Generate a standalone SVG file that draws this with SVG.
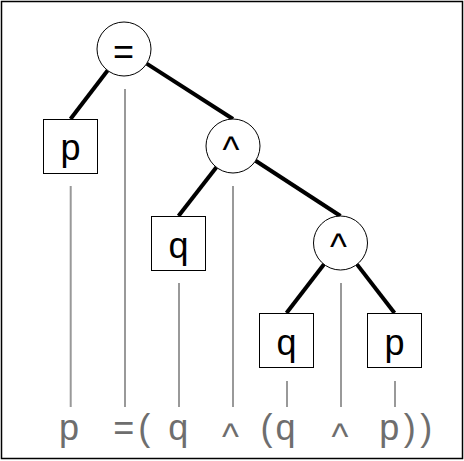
<svg xmlns="http://www.w3.org/2000/svg" width="464" height="461" viewBox="0 0 464 461">
<style>
.node{fill:#fff;stroke:#000;stroke-width:1}
.lbl{font-family:"Liberation Sans",Arial,sans-serif;font-size:36px;fill:#000;text-anchor:middle}
.edge{stroke:#000;stroke-width:4;stroke-linecap:butt}
.guide{stroke:#999;stroke-width:2}
.tok{font-family:"Liberation Sans",Arial,sans-serif;font-size:36px;fill:#6e6e6e}
</style>
<rect x="0" y="0" width="464" height="461" fill="#fff"/>
<rect x="1.5" y="1.5" width="461" height="457" fill="none" stroke="#000" stroke-width="1.5"/>
<g id="connectors">
<line class="edge" x1="107.6" y1="70.5" x2="70.5" y2="119"/>
<line class="edge" x1="146.7" y1="63.6" x2="233" y2="119"/>
<line class="edge" x1="216.4" y1="167.3" x2="178.5" y2="216"/>
<line class="edge" x1="255.6" y1="160.7" x2="340.5" y2="216"/>
<line class="edge" x1="324" y1="264.3" x2="286.5" y2="313"/>
<line class="edge" x1="357" y1="264.4" x2="394.5" y2="313"/>
<line class="guide" x1="70.7" y1="186" x2="70.7" y2="407"/>
<line class="guide" x1="125" y1="89" x2="125" y2="407"/>
<line class="guide" x1="179" y1="283" x2="179" y2="407"/>
<line class="guide" x1="233" y1="186" x2="233" y2="407"/>
<line class="guide" x1="287" y1="381" x2="287" y2="407"/>
<line class="guide" x1="341" y1="283" x2="341" y2="407"/>
<line class="guide" x1="395" y1="381" x2="395" y2="407"/>
</g>
<g id="n_eq">
<circle class="node" cx="124" cy="49" r="27"/>
<text class="lbl" x="123.5" y="63.5">=</text>
</g>
<g id="n_p1">
<rect class="node" x="43.5" y="119.5" width="54" height="54"/>
<text class="lbl" x="70.5" y="160">p</text>
</g>
<g id="n_and1">
<circle class="node" cx="233" cy="146" r="27"/>
<text class="lbl" x="231" y="161.5">^</text>
</g>
<g id="n_q1">
<rect class="node" x="151.5" y="216.5" width="54" height="54"/>
<text class="lbl" x="178.5" y="257.5">q</text>
</g>
<g id="n_and2">
<circle class="node" cx="340.5" cy="243" r="27"/>
<text class="lbl" x="338.5" y="258.5">^</text>
</g>
<g id="n_q2">
<rect class="node" x="259.5" y="313.5" width="54" height="54"/>
<text class="lbl" x="286.5" y="354.5">q</text>
</g>
<g id="n_p2">
<rect class="node" x="367.5" y="313.5" width="54" height="54"/>
<text class="lbl" x="394.5" y="354.5">p</text>
</g>
<g id="tokens">
<text class="tok" x="69" y="440" text-anchor="middle">p</text>
<text class="tok" x="113.3" y="440" letter-spacing="4">=(</text>
<text class="tok" x="178.3" y="440" text-anchor="middle">q</text>
<text class="tok" x="230.5" y="449" text-anchor="middle">^</text>
<text class="tok" x="260.5" y="440" letter-spacing="3">(q</text>
<text class="tok" x="340" y="449" text-anchor="middle">^</text>
<text class="tok" x="379.3" y="440" letter-spacing="4.5">p))</text>
</g>
</svg>
